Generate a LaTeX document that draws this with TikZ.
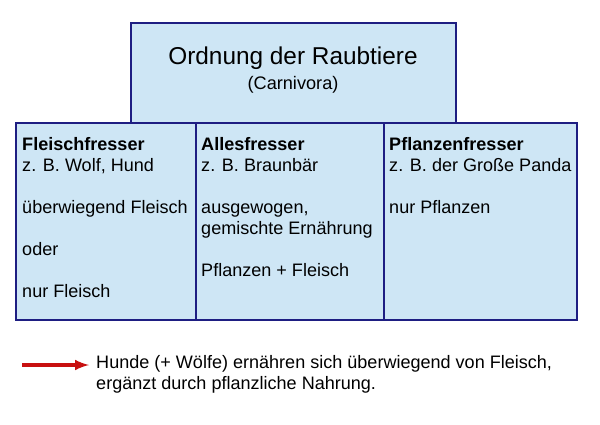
\documentclass[tikz,border=0pt]{standalone}
\usepackage{fontspec}
\setmainfont{Liberation Sans}
\usetikzlibrary{positioning}
\definecolor{boxfill}{RGB}{206,230,245}
\definecolor{boxline}{RGB}{30,30,130}
\definecolor{arrowred}{RGB}{200,16,16}
\tikzset{
	group box/.style={
		rectangle,
		draw=boxline,
		fill=boxfill,
		line width=1.8pt,
		anchor=north west,
		inner sep=0pt
	},
	group text/.style={
		anchor=north west,
		align=left,
		inner sep=0pt,
		font=\fontsize{15.4}{17.9}\selectfont
	},
}
\begin{document}
\begin{tikzpicture}[x=0.03cm,y=-0.03cm]
\useasboundingbox (0,0) rectangle (600,424);

\node[group box,minimum width=9.75cm,minimum height=3cm] (order) at (130,22) {};
	\node[font=\fontsize{20.8}{24}\selectfont] (title) at (293,58) {Ordnung der Raubtiere};
	\node[font=\fontsize{15.5}{17}\selectfont,below=-1pt of title] (latin) {(Carnivora)};

\node[group box,minimum width=5.4cm,minimum height=5.91cm] (meat) at (15,122) {};
\node[group box,minimum width=5.64cm,minimum height=5.91cm] (omni) at (195,122) {};
\node[group box,minimum width=5.79cm,minimum height=5.91cm] (plant) at (383,122) {};

\node[group text] (meattext) at (22,137) {\textbf{Fleischfresser}\\z. B. Wolf, Hund\\\mbox{}\\überwiegend Fleisch\\\mbox{}\\oder\\\mbox{}\\nur Fleisch};
\node[group text] (omnitext) at (201,137) {\textbf{Allesfresser}\\z. B. Braunbär\\\mbox{}\\ausgewogen,\\gemischte Ernährung\\\mbox{}\\Pflanzen + Fleisch};
\node[group text] (planttext) at (389,137) {\textbf{Pflanzenfresser}\\z. B. der Große Panda\\\mbox{}\\nur Pflanzen};

\coordinate (arrowstart) at (22,365);
\node[group text,anchor=west] (note) at (96,374) {Hunde (+ Wölfe) ernähren sich überwiegend von Fleisch,\\ergänzt durch pflanzliche Nahrung.};
\coordinate (arrowend) at (89,365);
\draw[arrowred,line width=3pt,-latex] (arrowstart) -- (arrowend);
\end{tikzpicture}
\end{document}
